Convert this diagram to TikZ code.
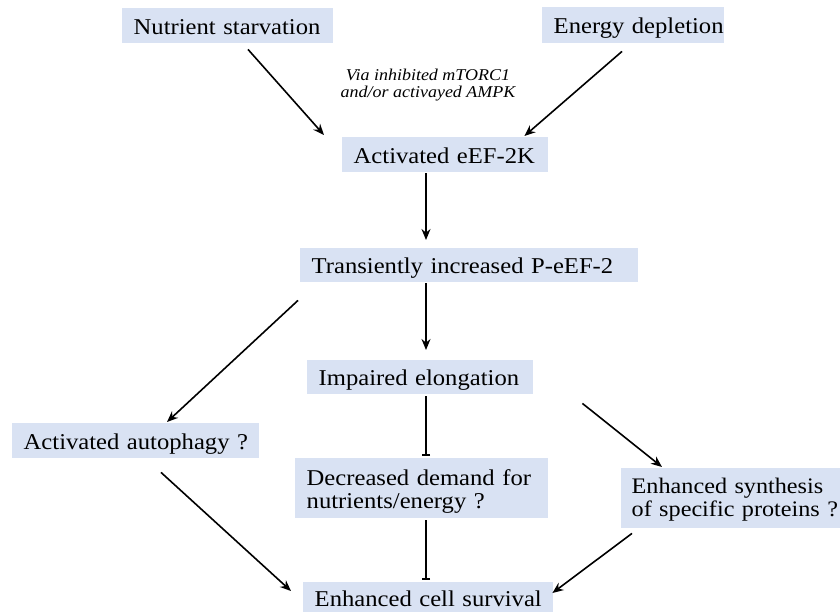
\documentclass[tikz,border=0pt]{standalone}
\usepackage{fontspec}
\setmainfont{Liberation Serif}[FakeStretch=1.09]
\usetikzlibrary{arrows.meta,calc}
\definecolor{boxfill}{HTML}{D9E2F3}
\begin{document}
\begin{tikzpicture}[x=1pt,y=-1pt,
  box/.style={draw=none,fill=boxfill,anchor=north west,inner xsep=11.5pt,inner ysep=0pt,
    text height=17.5pt,text depth=0pt,
    align=left,font=\fontsize{22.6}{22.5}\selectfont},
  twoline/.style={text depth=22.5pt},
  arr/.style={line width=1.6pt,-{Stealth[length=11pt,width=9pt]}},
  barr/.style={line width=1.6pt,-{Bar[width=8pt,line width=1.6pt]}}]
\useasboundingbox (0,0) rectangle (840,611);
\node[box,text width=188pt,minimum height=35pt] (NS) at (122,8) {\mbox{Nutrient starvation}};
\node[box,text width=159pt,minimum height=36pt] (ED) at (542,7) {\mbox{Energy depletion}};
\node[box,text width=183pt,minimum height=35pt] (AK) at (342,137) {\mbox{Activated eEF-2K}};
\node[box,text width=315pt,minimum height=34pt] (TP) at (300,248) {\mbox{Transiently increased P-eEF-2}};
\node[box,text width=203pt,minimum height=34pt] (IE) at (307,360) {\mbox{Impaired elongation}};
\node[box,text width=224pt,minimum height=35pt] (AA) at (12,423) {\mbox{Activated autophagy ?}};
\node[box,twoline,text width=230pt,minimum height=60pt] (DD) at (295,458) {\mbox{Decreased demand for}\\\mbox{nutrients/energy ?}};
\node[box,twoline,text depth=26pt,inner xsep=10.5pt,text width=219pt,minimum height=60pt,font=\fontsize{22.2}{23}\selectfont] (ES) at (621,468) {\mbox{Enhanced synthesis}\\\mbox{of specific proteins ?}};
\node[box,text width=227pt,minimum height=31pt] (ECS) at (303,582) {\mbox{Enhanced cell survival}};
\node[align=center,font=\fontsize{16.5}{17}\itshape\selectfont,inner sep=0pt] (via) at (428,85)
  {Via inhibited mTORC1\\and/or activayed AMPK};
\draw[arr] ($(NS.south west)+(126,6)$) -- ($(AK.north west)+(-18,-2)$);
\draw[arr] ($(ED.south west)+(80,8)$) -- ($(AK.north east)+(-24,-1)$);
\draw[arr] ($(AK.south west)+(84,1)$) -- ($(TP.north west)+(126,-8)$);
\draw[arr] ($(TP.south west)+(126,1)$) -- ($(IE.north west)+(119,-10)$);
\draw[arr] ($(TP.south west)+(-2,18)$) -- ($(AA.north west)+(155,-1)$);
\draw[barr] ($(IE.south west)+(119,2)$) -- ($(DD.north west)+(131,-2)$);
\draw[arr] ($(IE.south east)+(49,9)$) -- ($(ES.north west)+(41,-1)$);
\draw[arr] ($(AA.south west)+(149,14)$) -- ($(ECS.north west)+(-12,9)$);
\draw[barr] ($(DD.south west)+(131,2)$) -- ($(ECS.north west)+(123,-2)$);
\draw[arr] ($(ES.south west)+(11,5)$) -- ($(ECS.north east)+(-1,11)$);
\end{tikzpicture}
\end{document}
